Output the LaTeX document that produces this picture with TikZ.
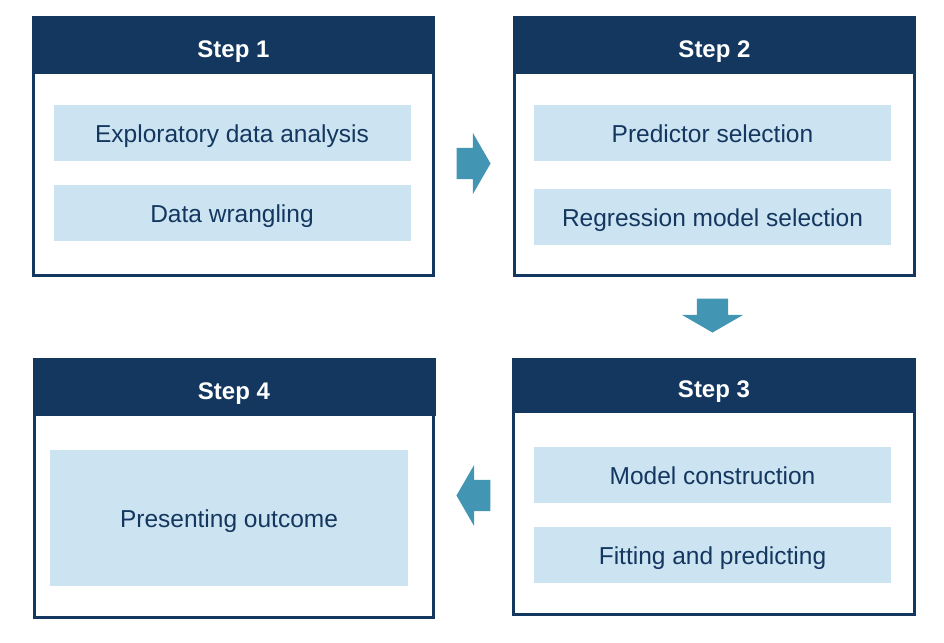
\documentclass[tikz,border=0pt]{standalone}
\usepackage{fontspec}
\setmainfont{Liberation Sans}
\usetikzlibrary{shapes.arrows}
\definecolor{navy}{HTML}{14375F}
\definecolor{paleblue}{HTML}{CCE3F2}
\definecolor{teal}{HTML}{4295B3}
\begin{document}
\begin{tikzpicture}[x=1pt,y=-1pt,
    frame/.style={draw=navy,line width=2.8pt,fill=white,inner sep=0pt},
    head/.style={fill=navy,text=white,inner sep=0pt,minimum width=403pt,
      text height=24pt,text depth=0pt,
      font=\fontsize{24}{28}\selectfont\bfseries},
    task/.style={fill=paleblue,text=navy,inner sep=0pt,minimum width=357pt,
      minimum height=56pt,text height=19.5pt,text depth=0pt,
      font=\fontsize{24.5}{29}\selectfont},
    flow/.style={single arrow,fill=teal,inner xsep=0pt,inner ysep=15.5pt,
      minimum height=34pt,single arrow head extend=15pt,
      single arrow tip angle=120}]
      \useasboundingbox (0,0) rectangle (944,642);
      \draw
        (233.5,146.5) node[frame,minimum width=400pt,minimum height=258pt] (s1){}
        (714.5,146.5) node[frame,minimum width=400pt,minimum height=258pt] (s2){}
        (714,487) node[frame,minimum width=401pt,minimum height=255pt] (s3){}
        (234,488.5) node[frame,minimum width=399pt,minimum height=258pt] (s4){};
      \draw
        (233.5,45) node[head,minimum height=58pt] (h1){Step 1}
        (714.5,45) node[head,minimum height=58pt] (h2){Step 2}
        (714,385.5) node[head,minimum height=55pt] (h3){Step 3}
        (234,387) node[head,minimum height=58pt] (h4){Step 4};
      \draw
        (232,133) node[task] (t11){Exploratory data analysis}
        (232,213) node[task] (t12){Data wrangling}
        (712.5,133) node[task] (t21){Predictor selection}
        (712.5,216.5) node[task] (t22){Regression model selection}
        (712.5,475) node[task] (t31){Model construction}
        (712.5,555) node[task] (t32){Fitting and predicting}
        (229,518) node[task,minimum width=358pt,minimum height=136pt] (t41){Presenting outcome};
      \draw
        (469,163.5) node[flow] (a12){}
        (712.5,311) node[flow,shape border rotate=270,inner xsep=15.5pt,inner ysep=0pt] (a23){}
        (478,495.5) node[flow,shape border rotate=180] (a34){};
    \end{tikzpicture}
\end{document}
